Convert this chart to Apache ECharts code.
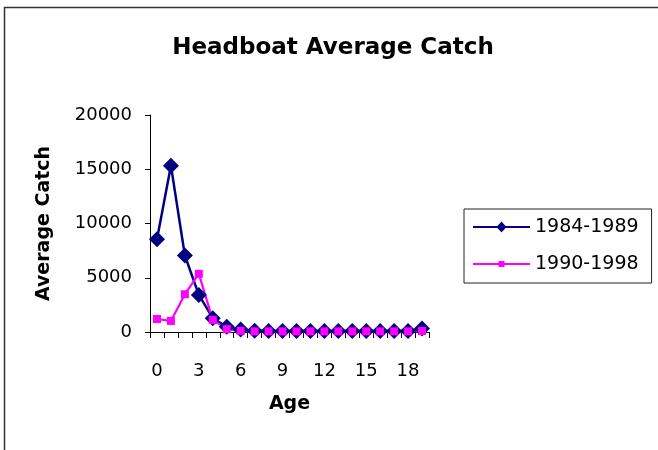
<!DOCTYPE html>
<html>
<head>
<meta charset="utf-8">
<script src="https://cdn.jsdelivr.net/npm/echarts@6/dist/echarts.min.js"></script>
<style>
  html, body { margin: 0; padding: 0; background: #fff; }
  #chart { width: 658px; height: 450px; }
</style>
</head>
<body>
<div id="chart"></div>
<script>
const ages = ["0","1","2","3","4","5","6","7","8","9","10","11","12","13","14","15","16","17","18","19"];
const catch8489 = [8550, 15330, 7050, 3420, 1270, 480, 220, 110, 100, 100, 100, 100, 100, 100, 100, 100, 100, 100, 100, 330];
const catch9098 = [1200, 1020, 3480, 5360, 1120, 260, 110, 60, 60, 60, 60, 60, 60, 60, 60, 60, 60, 60, 60, 90];
const yTicks = { min: 0, max: 20000, interval: 5000 };

const font = "DejaVu Sans";

const chart = echarts.init(document.getElementById("chart"));
chart.setOption({
  animation: false,
  backgroundColor: "#fff",
  title: {
    text: "Headboat Average Catch",
    left: 328,
    textAlign: "center",
    top: 32,
    textStyle: { fontFamily: font, fontSize: 23, fontWeight: "bold", color: "#000" },
  },
  graphic: [
    {
      type: "rect",
      shape: { x: 4.5, y: 7.5, width: 700, height: 500 },
      style: { fill: "none", stroke: "#333", lineWidth: 1.5 },
      silent: true,
    },
  ],
  legend: {
    orient: "vertical",
    left: 464,
    top: 209,
    padding: [8, 13, 9, 9],
    itemGap: 17,
    itemWidth: 57,
    itemHeight: 12,
    borderColor: "#222",
    borderWidth: 1,
    selectedMode: false,
    textStyle: { fontFamily: font, fontSize: 19, color: "#000", lineHeight: 20 },
    data: [
      {
        name: "1984-1989",
        icon: "path://M0,5 L57,5 L57,7 L0,7 Z M28.5,0.5 L33.5,6 L28.5,11.5 L23.5,6 Z",
      },
      {
        name: "1990-1998",
        icon: "path://M0,5 L57,5 L57,7 L0,7 Z M25.5,3 L31.5,3 L31.5,9 L25.5,9 Z",
      },
    ],
  },
  grid: { left: 150, right: 229, top: 115, bottom: 118 },
  xAxis: {
    type: "category",
    data: ages,
    boundaryGap: true,
    name: "Age",
    nameLocation: "middle",
    nameGap: 63,
    nameTextStyle: { fontFamily: font, fontSize: 19, fontWeight: "bold", color: "#000" },
    axisLine: { lineStyle: { color: "#000", width: 1 } },
    axisTick: { show: true, interval: 0, length: 6, lineStyle: { color: "#000" } },
    axisLabel: { interval: 2, margin: 30, fontFamily: font, fontSize: 18, color: "#000" },
    splitLine: { show: false },
  },
  yAxis: {
    type: "value",
    min: yTicks.min,
    max: yTicks.max,
    interval: yTicks.interval,
    name: "Average Catch",
    nameLocation: "middle",
    nameRotate: 90,
    nameGap: 96,
    nameTextStyle: { fontFamily: font, fontSize: 19, fontWeight: "bold", color: "#000" },
    axisLine: { show: true, lineStyle: { color: "#000", width: 1 } },
    axisTick: { show: true, length: 5, lineStyle: { color: "#000" } },
    axisLabel: {
      margin: 18,
      fontFamily: font,
      fontSize: 18,
      color: "#000",
      formatter: (v) => String(v),
    },
    splitLine: { show: false },
  },
  series: [
    {
      name: "1984-1989",
      type: "line",
      data: catch8489,
      symbol: "diamond",
      symbolSize: 16,
      showAllSymbol: true,
      itemStyle: { color: "#000080" },
      lineStyle: { width: 2.5, color: "#000080" },
    },
    {
      name: "1990-1998",
      type: "line",
      data: catch9098,
      symbol: "rect",
      symbolSize: 8,
      showAllSymbol: true,
      itemStyle: { color: "#ff00ff" },
      lineStyle: { width: 2.2, color: "#ff00ff" },
    },
  ],
});
</script>
</body>
</html>
